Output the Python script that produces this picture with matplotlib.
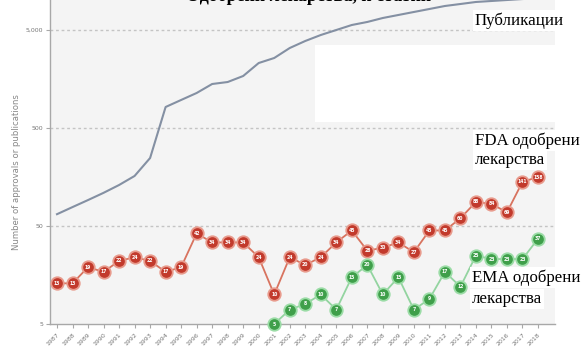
import matplotlib
matplotlib.use("Agg")
import matplotlib.pyplot as plt
from matplotlib.ticker import NullLocator, FixedLocator, FixedFormatter

# Data
years = list(range(1987, 2019))
publications = [66, 78, 92, 109, 131, 162, 247, 819, 966, 1138, 1406, 1473,
                1697, 2302, 2590, 3275, 3862, 4445, 5000, 5623, 6040, 6630,
                7115, 7635, 8190, 8790, 9210, 9660, 9885, 10115, 10350, 10590]
fda_approvals = [13, 13, 19, 17, 22, 24, 22, 17, 19, 42, 34, 34, 34, 24, 10, 24,
                 20, 24, 34, 45, 28, 30, 34, 27, 45, 45, 60, 88, 84, 69, 141, 158]
ema_years = list(range(2001, 2019))
ema_approvals = [5, 7, 8, 10, 7, 15, 20, 10, 15, 7, 9, 17, 12, 25, 23, 23, 23, 37]
y_ticks = [5, 50, 500, 5000]
y_tick_labels = ["5", "50", "500", "5,000"]

W, H = 586, 347
fig = plt.figure(figsize=(W / 100, H / 100), dpi=100)
fig.patch.set_facecolor("white")

# axes box in pixels: left 50, right 555, bottom 324, top 0
ax = fig.add_axes([50 / W, 1 - 324 / H, 505 / W, 324 / H])
ax.set_facecolor("#f4f4f4")
ax.set_yscale("log")
ax.set_ylim(5, 5 * 10 ** (324 / 98))
px_per_year = (538 - 57) / 31
ax.set_xlim(1987 - 7 / px_per_year, 1987 + (555 - 57) / px_per_year)

for s in ("top", "right"):
    ax.spines[s].set_visible(False)
for s in ("left", "bottom"):
    ax.spines[s].set_color("#a8a8a8")
    ax.spines[s].set_linewidth(1.0)

ax.yaxis.set_major_locator(FixedLocator(y_ticks))
ax.yaxis.set_major_formatter(FixedFormatter(y_tick_labels))
ax.yaxis.set_minor_locator(NullLocator())
ax.tick_params(axis="y", length=3, width=0.8, color="#a8a8a8",
               labelsize=4.5, labelcolor="#777777", pad=2)
ax.set_xticks(years)
ax.set_xticklabels([str(y) for y in years], rotation=45, ha="right",
                   va="top", rotation_mode="anchor")
ax.tick_params(axis="x", length=3, width=0.8, color="#a8a8a8",
               labelsize=4.5, labelcolor="#777777", pad=3)

for v in y_ticks[1:]:
    ax.axhline(v, color="#c4c4c4", lw=1.0, ls=(0, (2, 2)), zorder=1)

# rotated axis title
fig.text(17 / W, 1 - 172 / H, "Number of approvals or publications",
         rotation=90, ha="center", va="center", fontsize=6.1,
         color="#888888")

# white area under the publications curve
fig.patches.append(plt.Rectangle((315 / W, 1 - 122 / H), (557 - 315) / W,
                                 (122 - 45) / H, transform=fig.transFigure,
                                 facecolor="white", edgecolor="none",
                                 zorder=0.5))

# publications curve
ax.plot(years, publications, color="#8490a3", lw=1.5, zorder=3)

# FDA approvals
ax.plot(years, fda_approvals, color="#d8735f", lw=1.3, zorder=4)
ax.plot(years, fda_approvals, ls="none", marker="o", ms=9,
        mfc="#c23a2c", mec="#e89a8c", mew=1.3, zorder=5, clip_on=False)
for x, v in zip(years, fda_approvals):
    ax.text(x, v, str(v), ha="center", va="center", fontsize=3.3,
            color="white", fontweight="bold", zorder=6)

# EMA approvals
ax.plot(ema_years, ema_approvals, color="#93d4a0", lw=1.3, zorder=4,
        clip_on=False)
ax.plot(ema_years, ema_approvals, ls="none", marker="o", ms=9,
        mfc="#3f9f4a", mec="#9bdca6", mew=1.3, zorder=5, clip_on=False)
for x, v in zip(ema_years, ema_approvals):
    ax.text(x, v, str(v), ha="center", va="center", fontsize=3.3,
            color="white", fontweight="bold", zorder=6, clip_on=False)

serif = ["Liberation Serif", "DejaVu Serif"]


def px_text(x, y, s, **kw):
    fig.text(x / W, 1 - y / H, s, family=serif, color="black",
             va="baseline", ha="left", **kw)


box = dict(facecolor="white", edgecolor="none", pad=1.5)
# chart heading, running off the top edge
px_text(186, 1, "Одобрени лекарства, и статии", fontsize=13, fontweight="bold")
px_text(475, 25, "Публикации", fontsize=12.2, bbox=box)
px_text(475, 145, "FDA одобрени", fontsize=12.2, bbox=box)
px_text(475, 164, "лекарства", fontsize=12.2, bbox=box)
px_text(472, 282, "EMA одобрени", fontsize=12.2, bbox=box)
px_text(472, 303, "лекарства", fontsize=12.2, bbox=box)

fig.savefig("out.png", dpi=100, facecolor="white")
